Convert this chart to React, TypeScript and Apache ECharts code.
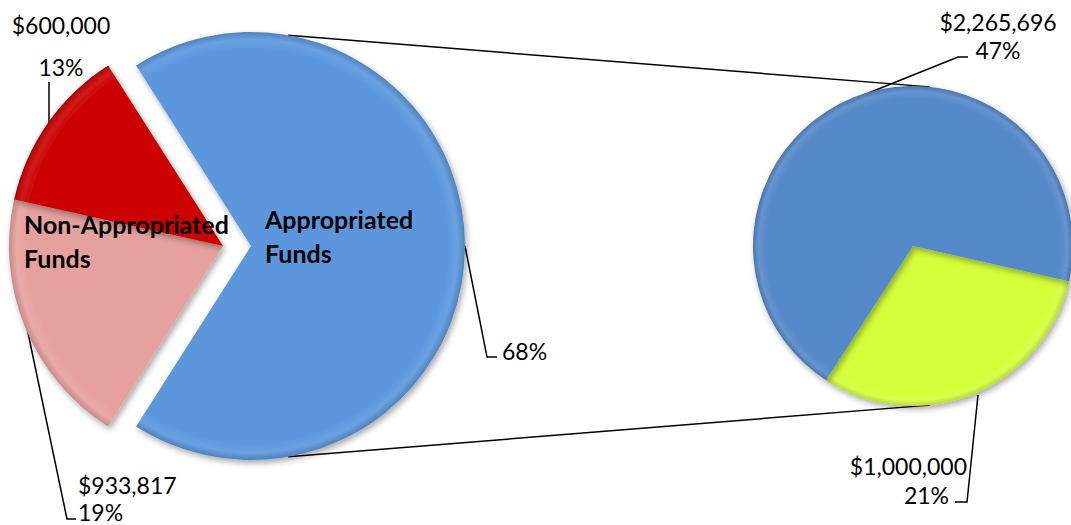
import React, { useEffect, useRef } from "react";
import * as echarts from "echarts";

// ---- data ----
const groupNames = ["Appropriated Funds", "Non-Appropriated Funds"];
// right (breakdown) pie, in drawing order
const appropriatedNames = ["Appropriated B", "Appropriated A"];
const appropriatedParts = [1000000, 2265696];
// left pie non-appropriated slices, in drawing order
const nonAppropriatedNames = ["Non-Appropriated B", "Non-Appropriated A"];
const nonAppropriatedParts = [933817, 600000];

// ---- styles ----
const leftBlue = "#5B97DE";
const nonColors = ["#E6A19F", "#CC0000"];
const rightColors = ["#D5FF3B", "#5588C8"];
const FONT = "Lato, 'Open Sans', sans-serif";
const L = { cx: 223, cy: 246, r: 214, off: 28 };
const R = { cx: 913, cy: 246, r: 160, start: 347.3 };

const blueLabelPos = { x: 502, y: 351, align: "left", line: [[465, 246], [487, 357], [497, 357]] };
const nonLabelPos = [
  { x: 78, y: 498, align: "left", line: [[27, 328], [67, 519], [76, 519]] },
  { x: 61, y: 46, align: "center", line: [[49, 123], [49, 82]] },
];
const rightLabelPos = [
  { x: 967, y: 480, align: "right", line: [[978, 395], [967, 502], [955, 502]] },
  { x: 998, y: 36, align: "center", line: [[856, 98], [958, 57], [968, 57]] },
];
const nameLabelPos = [
  { x: 265, y: 236, align: "left" },
  { x: 24, y: 241, align: "left" },
];

const sum = (a: number[]) => a.reduce((s, v) => s + v, 0);
const appropriatedTotal = sum(appropriatedParts);
const nonAppropriatedTotal = sum(nonAppropriatedParts);
const grandTotal = appropriatedTotal + nonAppropriatedTotal;
const pct = (v: number) => Math.round((v / grandTotal) * 100) + "%";
const money = (v: number) => "$" + v.toLocaleString("en-US");

function shade(hex: string, f: number) {
  const n = parseInt(hex.slice(1), 16);
  const r = (n >> 16) & 255, g = (n >> 8) & 255, b = n & 255;
  const m = (c: number) => Math.max(0, Math.min(255, Math.round(f < 0 ? c * (1 + f) : c + (255 - c) * f)));
  return `rgb(${m(r)},${m(g)},${m(b)})`;
}
function bevel(hex: string, cx: number, cy: number, r: number) {
  return {
    type: "radial", x: cx, y: cy, r, global: true,
    colorStops: [
      { offset: 0, color: hex },
      { offset: 0.92, color: hex },
      { offset: 0.965, color: shade(hex, 0.1) },
      { offset: 1, color: shade(hex, -0.14) },
    ],
  };
}
const pt = (cx: number, cy: number, r: number, deg: number) => [
  cx + r * Math.cos((deg * Math.PI) / 180),
  cy - r * Math.sin((deg * Math.PI) / 180),
];
const CLEAR = "rgba(0,0,0,0)";

export default function App() {
  const ref = useRef<HTMLDivElement>(null);
  useEffect(() => {
    const chart = echarts.init(ref.current!, null, { renderer: "svg" });
    const leftStart = (appropriatedTotal / grandTotal) * 180;
    const shadow = { shadowBlur: 6, shadowColor: "rgba(0,0,0,0.35)", shadowOffsetX: 2, shadowOffsetY: 3 };
    const hidden = { itemStyle: { color: CLEAR }, label: { show: false }, labelLine: { show: false } };

    const up1 = pt(L.cx + L.off, L.cy, L.r, 80);
    const up2 = pt(R.cx, R.cy, R.r, 84);
    const dn1 = pt(L.cx + L.off, L.cy, L.r, -80);
    const dn2 = pt(R.cx, R.cy, R.r, -84);

    const labelStyle = { color: "#000", fontFamily: FONT, fontSize: 23 };
    const lineStyle = { color: "#000", width: 1.5 };
    const layoutFrom = (o: any) =>
      o ? { x: o.x, y: o.y, align: o.align, verticalAlign: "middle", labelLinePoints: o.line } : {};

    chart.setOption({
      animation: false,
      series: [
        // exploded Appropriated slice
        {
          type: "pie",
          center: [L.cx + L.off, L.cy],
          radius: L.r,
          startAngle: leftStart,
          clockwise: true,
          avoidLabelOverlap: false,
          silent: true,
          data: [
            {
              name: groupNames[0], value: appropriatedTotal,
              itemStyle: { color: bevel(leftBlue, L.cx + L.off, L.cy, L.r), ...shadow },
            },
            { name: groupNames[1], value: nonAppropriatedTotal, ...hidden },
          ],
          label: { show: true, position: "outside", ...labelStyle, formatter: (p: any) => pct(p.value) },
          labelLine: { show: true, lineStyle },
          labelLayout: (p: any) => layoutFrom(p.dataIndex === 0 ? blueLabelPos : null),
        },
        // non-appropriated slices
        {
          type: "pie",
          center: [L.cx, L.cy],
          radius: L.r,
          startAngle: leftStart,
          clockwise: true,
          avoidLabelOverlap: false,
          silent: true,
          data: [
            { name: groupNames[0], value: appropriatedTotal, ...hidden },
            ...nonAppropriatedParts.map((v, i) => ({
              name: nonAppropriatedNames[i],
              value: v,
              itemStyle: { color: bevel(nonColors[i], L.cx, L.cy, L.r), ...shadow },
            })),
          ],
          label: {
            show: true,
            position: "outside",
            ...labelStyle,
            formatter: (p: any) =>
              p.dataIndex === 1
                ? `{b|${money(p.value)}}\n{b|${pct(p.value)}}`
                : `{c|${money(p.value)}}\n{c|${pct(p.value)}}`,
            rich: {
              b: { ...labelStyle, lineHeight: 27 },
              c: { ...labelStyle, lineHeight: 42 },
            },
          },
          labelLine: { show: true, lineStyle },
          labelLayout: (p: any) => layoutFrom(nonLabelPos[p.dataIndex - 1]),
        },
        // breakdown pie
        {
          type: "pie",
          center: [R.cx, R.cy],
          radius: R.r,
          startAngle: R.start,
          clockwise: true,
          avoidLabelOverlap: false,
          silent: true,
          data: appropriatedParts.map((v, i) => ({
            name: appropriatedNames[i],
            value: v,
            itemStyle: { color: bevel(rightColors[i], R.cx, R.cy, R.r), ...shadow },
          })),
          label: {
            show: true,
            position: "outside",
            ...labelStyle,
            formatter: (p: any) =>
              p.dataIndex === 0
                ? `{a|${money(p.value)}}\n{b|${pct(p.value)}}`
                : `{c|${money(p.value)}}\n{c|${pct(p.value)}}`,
            rich: {
              a: { ...labelStyle, lineHeight: 29 },
              b: { ...labelStyle, lineHeight: 29, padding: [0, 18, 0, 0] },
              c: { ...labelStyle, lineHeight: 28 },
            },
          },
          labelLine: { show: true, lineStyle },
          labelLayout: (p: any) => layoutFrom(rightLabelPos[p.dataIndex]),
        },
        // group name labels
        {
          type: "pie",
          center: [L.cx, L.cy],
          radius: L.r,
          startAngle: leftStart,
          clockwise: true,
          silent: true,
          z: 5,
          avoidLabelOverlap: false,
          data: [appropriatedTotal, nonAppropriatedTotal].map((v, i) => ({
            name: groupNames[i],
            value: v,
            itemStyle: { color: CLEAR },
          })),
          label: {
            show: true,
            position: "inside",
            formatter: (p: any) => p.name.replace(" ", "\n"),
            color: "#000",
            fontFamily: FONT,
            fontWeight: "bold",
            fontSize: 25,
            lineHeight: 34,
          },
          labelLine: { show: false },
          labelLayout: (p: any) => {
            const o = nameLabelPos[p.dataIndex];
            return { x: o.x, y: o.y, align: o.align, verticalAlign: "middle" };
          },
        },
      ],
      graphic: [
        { type: "line", z: 0, shape: { x1: up1[0], y1: up1[1], x2: up2[0], y2: up2[1] }, style: { stroke: "#000", lineWidth: 1.5 } },
        { type: "line", z: 0, shape: { x1: dn1[0], y1: dn1[1], x2: dn2[0], y2: dn2[1] }, style: { stroke: "#000", lineWidth: 1.5 } },
      ],
    });
    return () => chart.dispose();
  }, []);
  return <div ref={ref} style={{ position: "absolute", left: 0, top: 0, width: 1071, height: 525 }} />;
}
